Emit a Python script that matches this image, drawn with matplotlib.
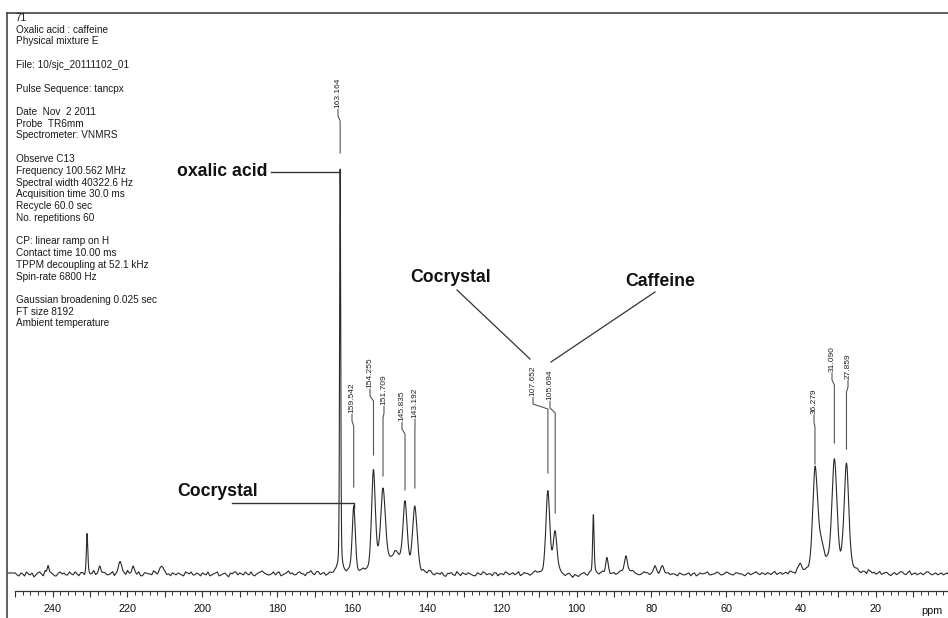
import numpy as np
import matplotlib
matplotlib.use("Agg")
import matplotlib.pyplot as plt
from matplotlib.ticker import FixedLocator, FuncFormatter

plt.rcParams['font.family'] = ['Liberation Sans', 'DejaVu Sans']

# ---------------- data ----------------
# resolved peaks: position (ppm), height (arb. units), full width at half max (ppm)
peak_ppm = [241.2, 230.8, 227.3, 222.0, 218.5, 211.0,
            163.164, 159.542, 154.255, 151.709, 148.5, 145.835, 143.192,
            107.652, 105.694, 95.5, 91.9, 86.8, 79.0, 77.0,
            40.2, 36.279, 35.0, 31.090, 27.859]
peak_height = [9, 40, 7, 15, 6, 9,
               405, 66, 100, 80, 18, 66, 67,
               83, 42, 60, 16, 19, 6, 7,
               7, 92, 30, 112, 106]
peak_fwhm = [0.6, 0.45, 0.8, 0.8, 1.0, 1.0,
             0.35, 1.0, 1.2, 1.6, 3.0, 1.4, 1.4,
             1.2, 1.2, 0.45, 0.8, 1.0, 1.0, 1.0,
             1.0, 1.4, 2.5, 1.6, 1.5]

# baseline noise read at whole ppm (250 ... 1)
noise_whole = [1, -2, 0, 2, -1, -3, 1, 0, 3, -1, 0, -2, 2, 1, -1, 0, 2, -2, 1, 0, -1, 3, 0, -2, 1,
               -1, 2, 0, -3, 1, 3, -1, 0, 2, -2, 1, 0, 3, -1, -2, 2, 0, 1, -1, 0, -2, 1, 2, -1, 0,
               1, -1, -2, 0, 2, -1, 1, -3, 0, 2, 1, -1, 0, 2, -2, 1, 3, 0, -1, 2, 1, -2, 0, 3, 1,
               -1, 2, 0, 1, 3, -1, 2, 0, -2, 1, 0, 2, -1, 0, 1, -2, 0, -1, 2, 0, 1, -1, 0, 2, -1,
               0, -2, 1, -1, 2, 0, 1, -3, 0, 1, -1, 2, -2, 0, 1, -3, 0, -1, 2, -2, 0, 1, -1, -2, 0,
               2, -1, 0, 1, -2, 0, 2, -1, 1, 0, -2, 1, 0, -1, 2, 0, -2, 1, -1, 0, -2, -1, -3, 0, -4,
               -2, -1, 1, -2, 0, 1, -1, 2, 0, -1, 1, 0, 2, -1, 1, 3, 0, -1, 2, 1, 0, 2, -1, 1, 0,
               -1, 0, -2, 0, -1, 1, 0, -2, 1, 0, 2, -1, 0, 1, -1, 2, 0, -1, 1, 0, -2, 1, 0, 2, -1,
               0, 1, -1, 2, 0, -1, 1, 2, 0, 3, 1, 0, -1, 2, 0, -1, 1, 2, 0, -1, 0, 1, 2, -1, 0,
               2, -1, 1, 3, 0, -1, 2, 0, 1, -2, 1, 0, 2, -1, 3, 0, -1, 1, 0, 2, -1, 1, 0, -1, 1]
# baseline noise read at half ppm (249.5 ... 0.5)
noise_half = [-1, 1, -2, 0, 1, -1, 2, -2, 0, 1, -2, 1, 0, -1, 2, -1, 0, 1, -2, 1, 0, -1, 2, 1, -1,
              0, -2, 1, 2, -1, 0, 2, -1, -2, 1, 0, -1, 1, 0, 2, -1, -2, 0, 1, -1, 2, 0, -1, 1, -2,
              0, 2, -1, 1, -2, 0, -1, 1, 2, -1, 0, 2, -1, -1, 0, 2, 1, -1, 0, -1, 2, -1, 1, 0, -1,
              1, 0, -2, 1, 0, 2, -1, 1, -1, 0, 2, -1, 1, -1, 0, 1, -2, 1, 0, -1, 2, 0, -1, 1, 0,
              -1, 1, 0, -2, 1, -1, 0, 1, -2, 0, 2, -1, 0, -1, -2, 0, 1, -2, 0, 1, -1, 0, -2, 1, -1,
              1, 0, -2, 1, 0, -1, 1, 0, -1, 2, -1, 0, -2, 1, 0, -1, 1, -2, 0, -3, 0, -2, -1, -2, -1,
              -3, 0, -1, 1, -1, 0, 1, -1, 1, 0, -1, 2, 0, -1, 2, 1, -1, 0, 1, -1, 1, 0, 2, -1, 1,
              0, -1, 1, -1, 0, -2, 1, -1, 0, 1, -1, 0, 2, -1, 0, 1, -1, 1, 0, -1, 0, -1, 1, 0, 1,
              -1, 0, 1, -1, 1, 0, -1, 1, -1, 2, 0, 1, 0, -1, 1, 0, -1, 1, 0, 1, -1, 0, 1, 0, 1,
              0, 1, -1, 2, 1, 0, -1, 1, -1, 0, -1, 2, 0, 1, -1, 1, 0, -1, 2, 0, 0, -1, 1, 0, -1]

# labelled peaks
label_ppm = [163.164, 159.542, 154.255, 151.709, 145.835, 143.192,
             107.652, 105.694, 36.279, 31.090, 27.859]

tick_major = list(range(250, 0, -10))
tick_minor = list(range(250, 0, -2))
tick_labels = list(range(240, 0, -20))

header_lines = ["71", "Oxalic acid : caffeine", "Physical mixture E", "",
                "File: 10/sjc_20111102_01", "", "Pulse Sequence: tancpx", "",
                "Date  Nov  2 2011", "Probe  TR6mm", "Spectrometer: VNMRS", "",
                "Observe C13", "Frequency 100.562 MHz", "Spectral width 40322.6 Hz",
                "Acquisition time 30.0 ms", "Recycle 60.0 sec", "No. repetitions 60", "",
                "CP: linear ramp on H", "Contact time 10.00 ms",
                "TPPM decoupling at 52.1 kHz", "Spin-rate 6800 Hz", "",
                "Gaussian broadening 0.025 sec", "FT size 8192", "Ambient temperature"]

# ---------------- spectrum ----------------
noise_ppm = []
noise_val = []
for i in range(250):
    noise_ppm += [250 - i, 249.5 - i]
    noise_val += [noise_whole[i], noise_half[i]]

x = np.linspace(252, 0.3, 14000)
y = np.interp(x, noise_ppm[::-1], noise_val[::-1]).astype(float)
eta = 0.4
for c, h, w in zip(peak_ppm, peak_height, peak_fwhm):
    s = w / 2.3548
    g = np.exp(-0.5 * ((x - c) / s) ** 2)
    lo = 1.0 / (1.0 + ((x - c) / (w / 2)) ** 2)
    y += h * ((1 - eta) * g + eta * lo)

W, H = 948, 618
fig = plt.figure(figsize=(W / 100, H / 100), dpi=100)
fig.patch.set_facecolor('white')

BASE = 574            # pixel row of the spectrum baseline
PX_PER_PPM = 3.742
X160 = 352
ppm_left = 160 + X160 / PX_PER_PPM
ppm_right = 160 - (W - X160) / PX_PER_PPM

ax = fig.add_axes([0, 0, 1, 1])
ax.set_facecolor('none')
ax.set_xlim(ppm_left, ppm_right)
ax.set_ylim(BASE - H, BASE)
ax.plot(x, y, color='#2a2a2a', lw=0.8, solid_joinstyle='round')

for s in ['top', 'left', 'right']:
    ax.spines[s].set_visible(False)
ax.spines['bottom'].set_position(('data', BASE - 590.5))
ax.spines['bottom'].set_bounds(250, ppm_right)
ax.spines['bottom'].set_color('#333333')
ax.spines['bottom'].set_linewidth(0.9)
ax.set_yticks([])
ax.xaxis.set_major_locator(FixedLocator(tick_major))
ax.xaxis.set_minor_locator(FixedLocator(tick_minor))
ax.xaxis.set_major_formatter(FuncFormatter(
    lambda v, p: f"{int(round(v))}" if int(round(v)) in tick_labels else ""))
ax.tick_params(axis='x', which='major', direction='out', length=4.5, width=0.8,
               color='#333333', labelsize=7.8, pad=5, labelcolor='#111111')
ax.tick_params(axis='x', which='minor', direction='out', length=2.6, width=0.7,
               color='#333333')

# ---------------- overlay in pixel coordinates ----------------
ov = fig.add_axes([0, 0, 1, 1])
ov.set_xlim(0, W)
ov.set_ylim(H, 0)
ov.axis('off')
ov.patch.set_visible(False)

def ppm2px(p):
    d = ax.transData.transform((p, 0))
    return ov.transData.inverted().transform(d)[0]

# frame lines
ov.plot([7.5, 7.5], [12.5, H], color='#444444', lw=1.2)
ov.plot([7.5, W], [12.5, 12.5], color='#444444', lw=1.2)

# header text block
for i, line in enumerate(header_lines):
    if line:
        ov.text(16, 18 + i * 11.75, line, fontsize=7.2, color='#1a1a1a',
                ha='left', va='center')

# "ppm" unit label
ov.text(932, 611.5, "ppm", fontsize=7.8, ha='center', va='center', color='#111111')

# peak labels: text x (px), text bottom (px), leader end (px)
lab_tx = [338, 352, 370, 384, 402, 415, 533, 550, 814, 832, 848]
lab_tb = [108, 413, 388, 405, 421, 418, 396, 400, 414, 372, 379]
lab_end = [153, 487, 455, 476, 490, 488, 473, 513, 464, 443, 449]
for p, tx, tb, te in zip(label_ppm, lab_tx, lab_tb, lab_end):
    px = ppm2px(p)
    ov.text(tx, tb, f"{p:.3f}", rotation=90, fontsize=6, ha='center', va='bottom',
            color='#222222')
    ov.plot([tx, tx, px, px], [tb + 1.5, tb + 8, tb + 13, te], color='#555555', lw=0.8)

# compound annotations
bold = dict(fontsize=12.7, fontweight='bold', color='#111111', va='center', ha='left')
ov.text(177, 172, "oxalic acid", **bold)
ov.plot([271, ppm2px(163.164)], [172, 172], color='#333333', lw=1.0)
ov.text(177, 492, "Cocrystal", **bold)
ov.plot([232, ppm2px(159.542), ppm2px(159.542)], [503, 503, 508], color='#333333', lw=1.0)
ov.text(410, 278, "Cocrystal", **bold)
ov.plot([457, 530], [290, 359], color='#333333', lw=0.9)
ov.text(625, 282, "Caffeine", **bold)
ov.plot([655, 551], [292, 362], color='#333333', lw=0.9)

fig.savefig("out.png", dpi=100, facecolor='white')
